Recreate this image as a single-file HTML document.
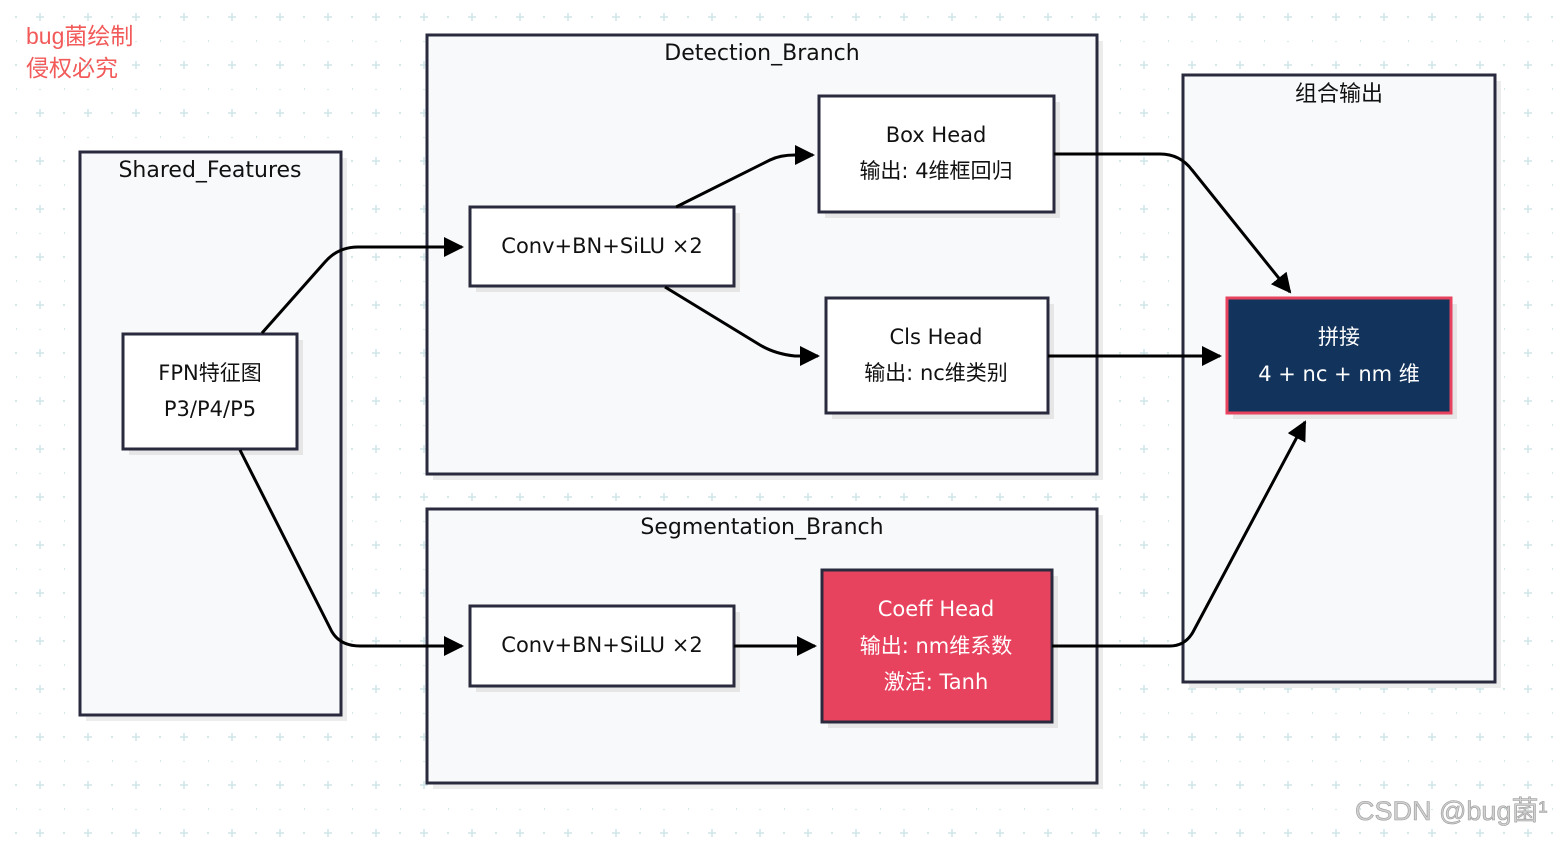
<!DOCTYPE html>
<html><head><meta charset="utf-8"><style>
body{margin:0;width:1562px;height:838px;overflow:hidden;background:#fff}
svg text{font-family:"DejaVu Sans","Noto Sans CJK SC",sans-serif}
</style></head><body>
<svg width="1562" height="838" viewBox="0 0 1562 838" xmlns="http://www.w3.org/2000/svg">
<defs>
<pattern id="g" x="16" y="-7" width="48" height="48" patternUnits="userSpaceOnUse">
<circle cx="0" cy="0" r="1.2" fill="#d6e8ea"/><circle cx="24" cy="0" r="1.2" fill="#d6e8ea"/><circle cx="0" cy="24" r="1.2" fill="#d6e8ea"/><circle cx="48" cy="24" r="1.2" fill="#d6e8ea"/><circle cx="0" cy="48" r="1.2" fill="#d6e8ea"/>
<path d="M24 20v8M20 24h8" stroke="#cfe6ea" stroke-width="1.5"/>
</pattern>
<marker id="b" markerWidth="20" markerHeight="20" refX="18" refY="10" orient="auto" markerUnits="userSpaceOnUse" viewBox="0 0 20 20"><path d="M0 0L20 10L0 20z" fill="#000"/></marker>
</defs>
<rect width="1562" height="838" fill="url(#g)"/>
<text x="26" y="44" font-size="23" fill="#f25a5a" style="font-family:'Liberation Sans','Noto Sans CJK SC',sans-serif">bug菌绘制</text>
<text x="26" y="76" font-size="23" fill="#f25a5a" style="font-family:'Liberation Sans','Noto Sans CJK SC',sans-serif">侵权必究</text>
<g stroke="#2a2a3e" stroke-width="3">
<rect x="86" y="158" width="261" height="563" fill="#ececec" stroke="none"/>
<rect x="80" y="152" width="261" height="563" fill="#f8f9fb"/>
<rect x="433" y="41" width="670" height="439" fill="#ececec" stroke="none"/>
<rect x="427" y="35" width="670" height="439" fill="#f8f9fb"/>
<rect x="433" y="515" width="670" height="274" fill="#ececec" stroke="none"/>
<rect x="427" y="509" width="670" height="274" fill="#f8f9fb"/>
<rect x="1189" y="81" width="312" height="607" fill="#ececec" stroke="none"/>
<rect x="1183" y="75" width="312" height="607" fill="#f8f9fb"/>
<rect x="129" y="340" width="174" height="115" fill="#e6e6e6" stroke="none"/>
<rect x="123" y="334" width="174" height="115" fill="#fff"/>
<rect x="476" y="213" width="264" height="79" fill="#e6e6e6" stroke="none"/>
<rect x="470" y="207" width="264" height="79" fill="#fff"/>
<rect x="825" y="102" width="235" height="116" fill="#e6e6e6" stroke="none"/>
<rect x="819" y="96" width="235" height="116" fill="#fff"/>
<rect x="832" y="304" width="222" height="115" fill="#e6e6e6" stroke="none"/>
<rect x="826" y="298" width="222" height="115" fill="#fff"/>
<rect x="476" y="612" width="264" height="80" fill="#e6e6e6" stroke="none"/>
<rect x="470" y="606" width="264" height="80" fill="#fff"/>
<rect x="828" y="576" width="230" height="152" fill="#e6e6e6" stroke="none"/>
<rect x="822" y="570" width="230" height="152" fill="#e8435e"/>
<rect x="1233" y="304" width="224" height="115" fill="#e6e6e6" stroke="none"/>
<rect x="1227" y="298" width="224" height="115" fill="#12335b" stroke="#e8435e"/>
</g>
<g font-size="22" text-anchor="middle" fill="#111">
<text x="210" y="177">Shared_Features</text>
<text x="762" y="60">Detection_Branch</text>
<text x="762" y="534">Segmentation_Branch</text>
<text x="1339" y="101">组合输出</text>
<g font-size="21">
<text x="210" y="380">FPN特征图</text>
<text x="210" y="416">P3/P4/P5</text>
<text x="602" y="253">Conv+BN+SiLU ×2</text>
<text x="602" y="652">Conv+BN+SiLU ×2</text>
<text x="936" y="142">Box Head</text>
<text x="936" y="178">输出: 4维框回归</text>
<text x="936" y="344">Cls Head</text>
<text x="936" y="380">输出: nc维类别</text>
<g fill="#fff"><text x="936" y="616">Coeff Head</text>
<text x="936" y="653">输出: nm维系数</text>
<text x="936" y="689">激活: Tanh</text>
<text x="1339" y="344">拼接</text>
<text x="1339" y="381">4 + nc + nm 维</text></g>
</g></g>
<g fill="none" stroke="#000" stroke-width="3" marker-end="url(#b)">
<path d="M262 333L325 262Q338 247 358 247L462 247"/>
<path d="M676 207L770 160Q780 155 795 155L813 155"/>
<path d="M665 287L760 345Q775 354 795 356L818 356"/>
<path d="M1054 154L1160 154Q1180 154 1192 170L1290 292"/>
<path d="M1048 356L1220 356"/>
<path d="M240 450L330 628Q338 646 360 646L462 646"/>
<path d="M734 646L815 646"/>
<path d="M1052 646L1170 646Q1185 646 1193 632L1305 422"/>
</g>
<text x="1355" y="820" font-size="27" fill="#d0d0d0" stroke="#999" stroke-width="0.6" style="font-family:'Liberation Sans','Noto Sans CJK SC',sans-serif">CSDN @bug菌¹</text>
</svg>
</body></html>
